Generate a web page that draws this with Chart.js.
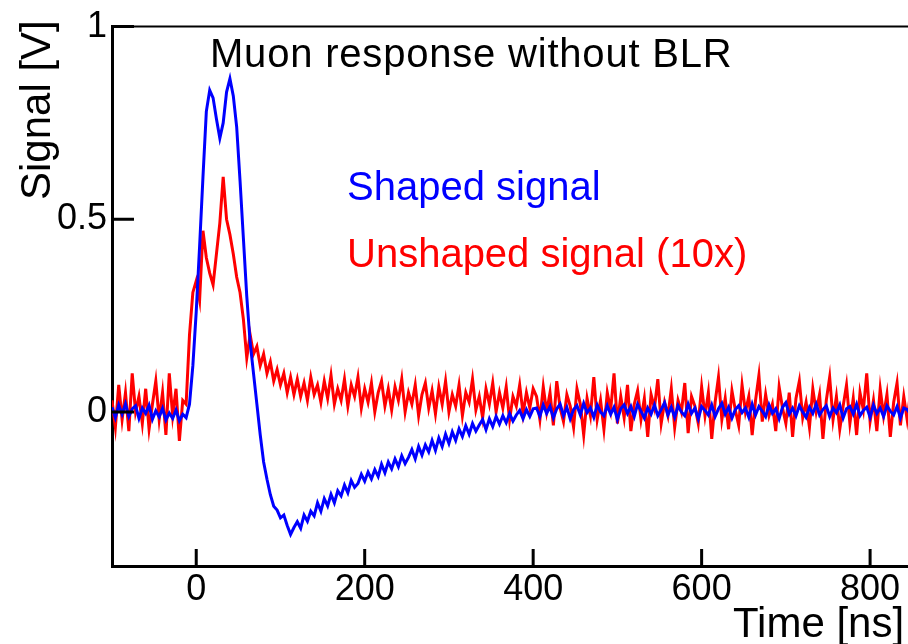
<!DOCTYPE html>
<html>
<head>
<meta charset="utf-8">
<title>Muon response without BLR</title>
<script src="https://cdn.jsdelivr.net/npm/chart.js@4.4.1/dist/chart.umd.min.js"></script>
<style>
  html, body { margin: 0; padding: 0; background: #fff; }
  #wrap { width: 908px; height: 644px; position: relative; }
</style>
</head>
<body>
<div id="wrap"><canvas id="chart"></canvas></div>
<script>
// oscilloscope trace, one sample every 4 ns starting at -100 ns
const timeStart = -100;
const timeStep = 4;

// shaped signal [V]
const shapedBaseline = [0.012, -0.015, 0.018, -0.006, 0.021, -0.012, 0.008, 0.016, -0.017, 0.01,
  -0.004, 0.017, -0.019, 0.003, -0.013, 0.009, -0.021, -0.003, -0.017, 0.005, -0.023, -0.006, -0.015];
const shapedPulse = [0.02, 0.12, 0.26, 0.43, 0.61, 0.78, 0.835, 0.815, 0.76, 0.71,
  0.75, 0.83, 0.865, 0.82, 0.74, 0.60, 0.45, 0.30, 0.18, 0.10,
  0.02, -0.06, -0.13, -0.175, -0.215, -0.245, -0.255, -0.275, -0.268, -0.295, -0.318, -0.30];
const shapedRecovery = [-0.285, -0.302, -0.268, -0.284, -0.258, -0.27, -0.236, -0.258, -0.225, -0.244,
  -0.214, -0.236, -0.205, -0.218, -0.19, -0.21, -0.178, -0.196, -0.186, -0.162,
  -0.18, -0.156, -0.174, -0.15, -0.168, -0.136, -0.158, -0.13, -0.148, -0.122,
  -0.142, -0.114, -0.134, -0.118, -0.098, -0.122, -0.09, -0.112, -0.086, -0.104,
  -0.074, -0.1, -0.068, -0.09, -0.058, -0.082, -0.052, -0.074, -0.044, -0.064,
  -0.036, -0.058, -0.03, -0.05, -0.034, -0.02, -0.046, -0.018, -0.038, -0.012,
  -0.032, -0.01, -0.028, -0.004, -0.024, -0.008, 0.004, -0.018, 0.006, -0.012, 0.008];
const shapedTail = [0.01, -0.012, 0.018, -0.004, 0.014, -0.016, 0.008, 0.02, -0.01, 0.012,
  -0.018, 0.006, 0.016, -0.008, 0.022, -0.002, 0.01, -0.014, 0.018, 0.0,
  -0.01, 0.016, -0.006, 0.012, -0.02, 0.008, 0.018, -0.004, 0.014, -0.012,
  0.02, 0.002, -0.016, 0.01, -0.006, 0.018, -0.01, 0.006, 0.024, -0.008,
  0.012, -0.014, 0.016, 0.0, -0.01, 0.02, -0.004, 0.01, -0.018, 0.014,
  0.004, -0.008, 0.018, -0.012, 0.008, 0.022, -0.006, 0.012, -0.016, 0.006,
  0.016, -0.002, 0.01, -0.014, 0.02, -0.008, 0.014, 0.002, -0.012, 0.018,
  -0.004, 0.008, -0.018, 0.012, 0.024, -0.006, 0.01, -0.01, 0.016, 0.0,
  -0.014, 0.012, -0.004, 0.02, -0.008, 0.006, 0.016, -0.012, 0.01, -0.002,
  0.018, -0.016, 0.008, 0.014, -0.006, 0.02, -0.01, 0.004, 0.012, -0.014,
  0.018, -0.004, 0.01, -0.012, 0.016, 0.002, -0.008, 0.014, -0.016, 0.01, 0.006, -0.006];

// unshaped signal, multiplied by 10 [V]
const unshapedBaseline = [0.03, -0.04, 0.07, -0.02, 0.05, -0.05, 0.1, 0.0, 0.04, -0.03,
  0.06, -0.045, 0.02, 0.08, -0.02, 0.05, -0.06, 0.1, -0.01, 0.06, -0.075, 0.03, 0.02];
const unshapedPulse = [0.2, 0.31, 0.34, 0.29, 0.47, 0.40, 0.36, 0.33, 0.41, 0.49,
  0.61, 0.50, 0.46, 0.41, 0.35, 0.31, 0.24, 0.14, 0.2, 0.15,
  0.17, 0.12, 0.15, 0.1, 0.13, 0.08, 0.11, 0.07];
const unshapedDecay = [0.1, 0.05, 0.09, 0.045, 0.085, 0.04, 0.075, 0.03, 0.09, 0.045,
  0.07, 0.025, 0.08, 0.035, 0.095, 0.02, 0.06, 0.03, 0.085, 0.015,
  0.07, 0.04, 0.09, 0.01, 0.06, 0.025, 0.075, 0.0, 0.05, 0.08,
  0.015, 0.06, 0.005, 0.065, 0.03, 0.085, 0.0, 0.05, 0.02, 0.07,
  -0.01, 0.045, 0.075, 0.01, 0.055, -0.005, 0.065, 0.02, 0.08, 0.0,
  0.045, 0.015, 0.07, -0.01, 0.05, 0.025, 0.085, 0.005, 0.04, -0.015,
  0.06, 0.02, 0.075, 0.0, 0.05, 0.01, 0.065, -0.02, 0.04, 0.015,
  0.07, -0.005, 0.05, 0.01, 0.06];
const unshapedTail = [0.04, -0.02, 0.065, 0.0, 0.05, -0.035, 0.08, 0.01, -0.025, 0.045,
  0.015, -0.04, 0.06, 0.02, -0.06, 0.035, -0.01, 0.09, -0.02, 0.03,
  -0.045, 0.05, 0.005, 0.1, -0.03, 0.04, -0.015, 0.07, -0.05, 0.02,
  0.055, -0.02, 0.035, -0.065, 0.045, 0.01, 0.085, -0.03, 0.025, -0.01,
  0.06, -0.04, 0.03, 0.0, 0.075, -0.055, 0.04, 0.015, -0.03, 0.065,
  -0.01, 0.05, -0.07, 0.025, 0.09, -0.02, 0.035, -0.045, 0.055, 0.005,
  -0.035, 0.07, 0.0, 0.04, -0.06, 0.03, 0.095, -0.025, 0.045, -0.01,
  0.02, -0.05, 0.065, 0.01, -0.03, 0.05, -0.065, 0.035, 0.08, -0.015,
  0.025, -0.04, 0.06, 0.0, 0.045, -0.07, 0.03, 0.09, -0.02, 0.04,
  -0.045, 0.015, 0.07, -0.03, 0.035, -0.06, 0.05, 0.005, 0.1, -0.025,
  0.03, -0.05, 0.06, -0.01, 0.045, -0.065, 0.025, 0.075, -0.035, 0.04, -0.02, 0.05];

const xTickValues = [0, 200, 400, 600, 800];
const yTickValues = [0, 0.5, 1];
const yTickLabels = ['0', '0.5', '1'];

const FONT = '"Liberation Sans", Arial, Helvetica, sans-serif';

const shaped = [...shapedBaseline, ...shapedPulse, ...shapedRecovery, ...shapedTail];
const unshaped = [...unshapedBaseline, ...unshapedPulse, ...unshapedDecay, ...unshapedTail];
const toPoints = values => values.map((v, i) => ({ x: timeStart + i * timeStep, y: v }));

// ROOT style frame: top line, inward ticks and the free text
const frameAndText = {
    id: 'frameAndText',
    afterDraw(chart) {
        const { ctx, chartArea, scales } = chart;
        ctx.save();
        ctx.strokeStyle = '#000';
        ctx.lineWidth = 2;
        ctx.beginPath();
        ctx.moveTo(chartArea.left, chartArea.top);
        ctx.lineTo(chartArea.right, chartArea.top);
        ctx.stroke();

        ctx.lineWidth = 3;
        ctx.beginPath();
        xTickValues.forEach(v => {
            const px = scales.x.getPixelForValue(v);
            ctx.moveTo(px, chartArea.bottom);
            ctx.lineTo(px, chartArea.bottom - 17);
        });
        yTickValues.forEach(v => {
            const py = scales.y.getPixelForValue(v);
            ctx.moveTo(chartArea.left, py);
            ctx.lineTo(chartArea.left + 22, py);
        });
        ctx.stroke();

        ctx.textAlign = 'left';
        ctx.textBaseline = 'alphabetic';
        ctx.font = '40px ' + FONT;
        ctx.fillStyle = '#000';
        ctx.letterSpacing = '0.8px';
        ctx.fillText('Muon response without BLR', 210, 67);
        ctx.letterSpacing = '0px';
        ctx.fillStyle = '#0000ff';
        ctx.fillText('Shaped signal', 347, 200);
        ctx.fillStyle = '#ff0000';
        ctx.fillText('Unshaped signal (10x)', 347, 267);

        ctx.fillStyle = '#000';
        ctx.font = '42px ' + FONT;
        ctx.fillText('Time [ns]', 733, 637);
        ctx.translate(50, 200);
        ctx.rotate(-Math.PI / 2);
        ctx.fillText('Signal [V]', 0, 0);
        ctx.restore();
    }
};

const tickFont = { family: FONT, size: 36 };

new Chart(document.getElementById('chart').getContext('2d'), {
    type: 'line',
    data: {
        datasets: [
            { label: 'Shaped signal', data: toPoints(shaped), borderColor: '#0000ff', borderWidth: 3, pointRadius: 0, tension: 0 },
            { label: 'Unshaped signal (10x)', data: toPoints(unshaped), borderColor: '#ff0000', borderWidth: 3, pointRadius: 0, tension: 0 },
        ]
    },
    options: {
        responsive: true, maintainAspectRatio: false, animation: false, devicePixelRatio: 1,
        layout: { padding: { top: 23, right: 0, left: 0, bottom: 0 } },
        plugins: { legend: { display: false }, tooltip: { enabled: false } },
        scales: {
            x: {
                type: 'linear', min: -100, max: 845,
                afterBuildTicks: s => { s.ticks = xTickValues.map(v => ({ value: v })); },
                afterFit: s => { s.height = 78; },
                ticks: { font: tickFont, color: '#000', padding: 2, maxRotation: 0, autoSkip: false, callback: v => String(v) },
                grid: { display: false, drawTicks: false, tickLength: 0 },
                border: { display: true, color: '#000', width: 3 },
            },
            y: {
                type: 'linear', min: -0.4, max: 1,
                afterBuildTicks: s => { s.ticks = yTickValues.map(v => ({ value: v })); },
                afterFit: s => { s.width = 112; },
                ticks: { font: tickFont, color: '#000', padding: 5, autoSkip: false, callback: v => yTickLabels[yTickValues.indexOf(v)] },
                grid: { display: false, drawTicks: false, tickLength: 0 },
                border: { display: true, color: '#000', width: 3 },
            }
        }
    },
    plugins: [frameAndText]
});
</script>
</body>
</html>
